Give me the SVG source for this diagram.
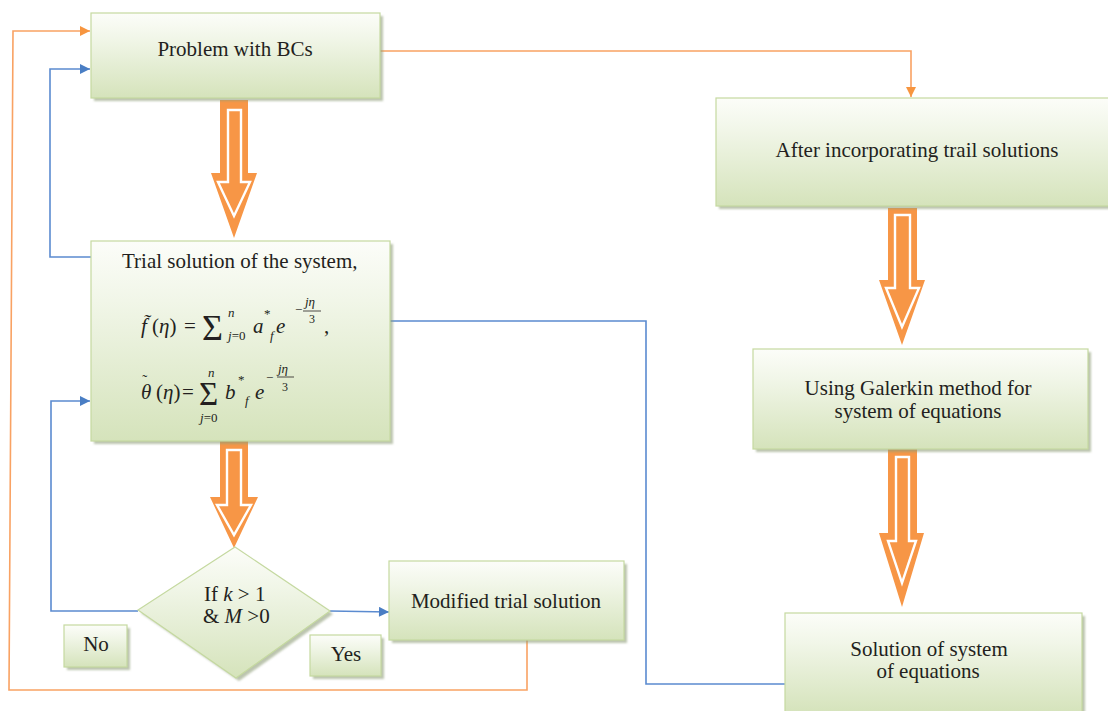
<svg xmlns="http://www.w3.org/2000/svg" width="1108" height="711" viewBox="0 0 1108 711">
<defs>
<linearGradient id="g" x1="0" y1="0" x2="0" y2="1">
<stop offset="0" stop-color="#fcfdf9"/>
<stop offset="0.3" stop-color="#f1f6e8"/>
<stop offset="1" stop-color="#d5e3bb"/>
</linearGradient>
<filter id="sh" x="-10%" y="-10%" width="130%" height="130%">
<feGaussianBlur stdDeviation="1.2"/>
</filter>
<marker id="ao" viewBox="0 0 10 10" refX="10" refY="5" markerWidth="11" markerHeight="10" markerUnits="userSpaceOnUse" orient="auto">
<path d="M0,0 L10,5 L0,10 Z" fill="#f7953f"/>
</marker>
<marker id="ab" viewBox="0 0 10 10" refX="10" refY="5" markerWidth="11" markerHeight="10" markerUnits="userSpaceOnUse" orient="auto">
<path d="M0,0 L10,5 L0,10 Z" fill="#4a7ec4"/>
</marker>
</defs>
<style>
.box{fill:url(#g);stroke:#c5d9a0;stroke-width:1.2}
.shd{fill:#8f9e79;opacity:0.6;filter:url(#sh)}
.t{font-family:"Liberation Serif","Times New Roman",serif;font-size:21px;fill:#231f20}
.m{font-family:"Liberation Serif","Times New Roman",serif;fill:#231f20}
.i{font-style:italic}
.ol{fill:none;stroke:#f9a263;stroke-width:1.6}
.bl{fill:none;stroke:#5b8bd0;stroke-width:1.6}
.big{fill:#f79646}
.bigin{fill:none;stroke:#ffffff;stroke-width:2.4;stroke-linejoin:miter}
</style>

<g id="connectors">
<polyline class="ol" points="527,640 527,690 9,690 13,31 90,31" marker-end="url(#ao)"/>
<polyline class="ol" points="380,51 911,51 911,97" marker-end="url(#ao)"/>
<polyline class="bl" points="91,257 50,257 50,69 90,69" marker-end="url(#ab)"/>
<polyline class="bl" points="138,611 51,611 51,401 90,401" marker-end="url(#ab)"/>
<polyline class="bl" points="330,611 389,612" marker-end="url(#ab)"/>
<polyline class="bl" points="390,321 646,321 646,684 785,684"/>
<g id="bigarrow1">
<path class="big" d="M220,100 L248,100 L248,173 L257,173 L234,238 L211,173 L220,173 Z"/>
<path class="bigin" d="M228,110 L241,110 L241,182 L250,182 L234,216 L218,182 L228,182 Z"/>
</g>
<g id="bigarrow2">
<path class="big" d="M220,441 L248,441 L248,497 L258,497 L234,548 L210,497 L220,497 Z"/>
<path class="bigin" d="M227,450 L241,450 L241,505 L251,505 L234,535 L217,505 L227,505 Z"/>
</g>
<g id="bigarrow3">
<path class="big" d="M888,208 L917,208 L917,280 L925,280 L902,345 L879,280 L888,280 Z"/>
<path class="bigin" d="M895,215 L910,215 L910,288 L919,288 L902,327 L886,288 L895,288 Z"/>
</g>
<g id="bigarrow4">
<path class="big" d="M888,449 L917,449 L917,533 L924,533 L902,607 L879,533 L888,533 Z"/>
<path class="bigin" d="M896,457 L909,457 L909,541 L916,541 L902,583 L888,541 L896,541 Z"/>
</g>
</g>

<g id="n1">
<rect class="shd" x="94" y="16" width="289" height="85"/>
<rect class="box" x="91" y="13" width="289" height="85"/>
<text class="t" x="235" y="56" text-anchor="middle">Problem with BCs</text>
</g>

<g id="n2">
<rect class="shd" x="94" y="244" width="299" height="200"/>
<rect class="box" x="91" y="241" width="299" height="200"/>
<text class="t" x="122" y="268">Trial solution of the system,</text>
<text class="m i" x="141" y="333" font-size="21">f̃</text>
<text class="m" x="152" y="333" font-size="21">(<tspan class="i">η</tspan>)</text>
<text class="m" x="184" y="333" font-size="21">=</text>
<text class="m" x="202" y="340" font-size="36">Σ</text>
<text class="m i" x="228" y="317" font-size="13">n</text>
<text class="m" x="228" y="340" font-size="13"><tspan class="i">j</tspan>=0</text>
<text class="m i" x="253" y="333" font-size="21">a</text>
<text class="m" x="264" y="318" font-size="13">*</text>
<text class="m i" x="270" y="340" font-size="13">f</text>
<text class="m i" x="276" y="333" font-size="21">e</text>
<text class="m" x="295" y="314" font-size="13">−</text>
<text class="m i" x="305" y="306" font-size="13">jη</text>
<line x1="303" y1="311" x2="321" y2="311" stroke="#231f20" stroke-width="0.8"/>
<text class="m" x="309" y="323" font-size="12">3</text>
<text class="m" x="324" y="333" font-size="21">,</text>

<text class="m i" x="141" y="399" font-size="21">θ<tspan dx="-9" dy="-14" font-size="15" font-style="normal">˜</tspan></text>
<text class="m" x="156" y="399" font-size="21">(<tspan class="i">η</tspan>)</text>
<text class="m" x="182" y="399" font-size="21">=</text>
<text class="m" x="199" y="405" font-size="33">Σ</text>
<text class="m i" x="208" y="377" font-size="13">n</text>
<text class="m" x="200" y="422" font-size="13"><tspan class="i">j</tspan>=0</text>
<text class="m i" x="225" y="399" font-size="21">b</text>
<text class="m" x="238" y="384" font-size="13">*</text>
<text class="m i" x="245" y="405" font-size="13">f</text>
<text class="m i" x="255" y="399" font-size="21">e</text>
<text class="m" x="266" y="382" font-size="13">−</text>
<text class="m i" x="278" y="373" font-size="13">jη</text>
<line x1="277" y1="377" x2="294" y2="377" stroke="#231f20" stroke-width="0.8"/>
<text class="m" x="282" y="391" font-size="12">3</text>
</g>

<g id="n3">
<polygon class="shd" points="237,550 333,614 239,681 141,613"/>
<polygon class="box" points="235,547 330,611 236,678 138,610"/>
<text class="t" x="204" y="601">If <tspan class="i">k</tspan> &gt; 1</text>
<text class="t" x="203" y="623">&amp; <tspan class="i">M</tspan> &gt;0</text>
</g>

<g id="no">
<rect class="shd" x="67" y="628" width="63" height="42"/>
<rect class="box" x="64" y="625" width="63" height="42"/>
<text class="t" x="96" y="651" text-anchor="middle">No</text>
</g>

<g id="yes">
<rect class="shd" x="313" y="638" width="71" height="41"/>
<rect class="box" x="310" y="635" width="71" height="41"/>
<text class="t" x="346" y="661" text-anchor="middle">Yes</text>
</g>

<g id="n4">
<rect class="shd" x="392" y="564" width="235" height="79"/>
<rect class="box" x="389" y="561" width="235" height="79"/>
<text class="t" x="506" y="608" text-anchor="middle">Modified trial solution</text>
</g>

<g id="n5">
<rect class="shd" x="719" y="101" width="400" height="108"/>
<rect class="box" x="716" y="98" width="400" height="108"/>
<text class="t" x="917" y="157" text-anchor="middle">After incorporating trail solutions</text>
</g>

<g id="n6">
<rect class="shd" x="756" y="352" width="335" height="100"/>
<rect class="box" x="753" y="349" width="335" height="100"/>
<text class="t" x="918" y="395" text-anchor="middle">Using Galerkin method for</text>
<text class="t" x="918" y="418" text-anchor="middle">system of equations</text>
</g>

<g id="n7">
<rect class="shd" x="788" y="616" width="297" height="100"/>
<rect class="box" x="785" y="613" width="297" height="100"/>
<text class="t" x="929" y="656" text-anchor="middle">Solution of system</text>
<text class="t" x="928" y="678" text-anchor="middle">of equations</text>
</g>
</svg>
